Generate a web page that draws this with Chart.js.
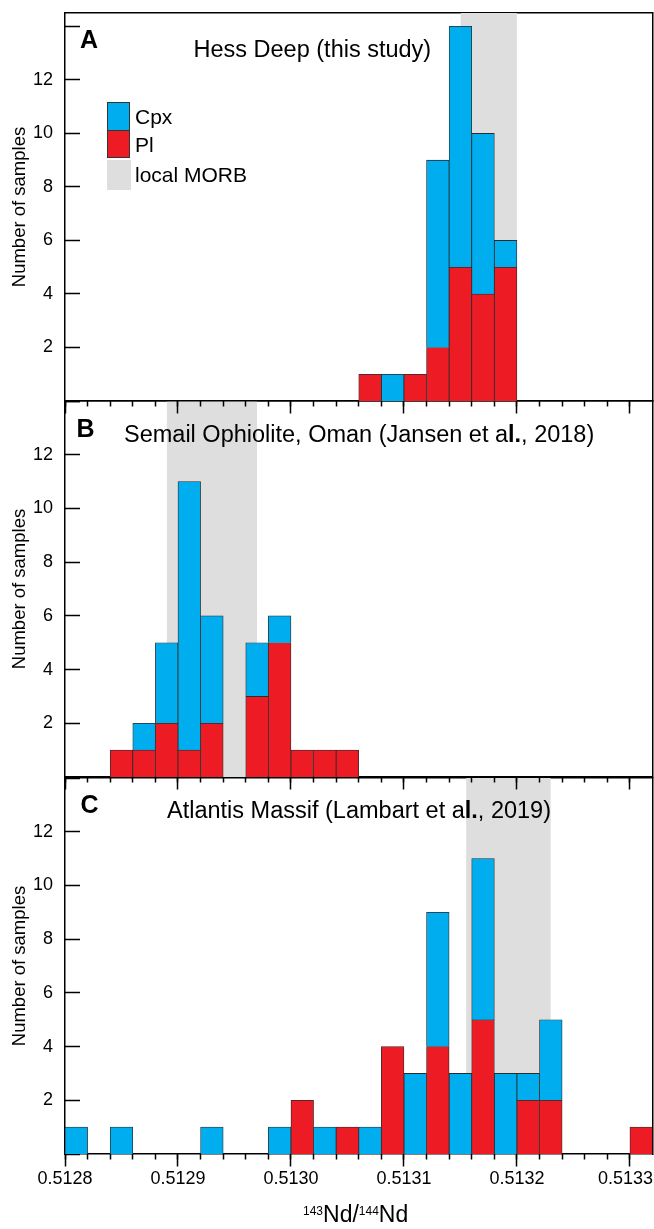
<!DOCTYPE html>
<html>
<head>
<meta charset="utf-8">
<script src="https://cdn.jsdelivr.net/npm/chart.js@4.4.0/dist/chart.umd.min.js"></script>
<style>
  html, body { margin: 0; padding: 0; background: #fff; overflow: hidden; }
  #page { position: relative; width: 654px; height: 1229px; overflow: hidden;
          font-family: 'Liberation Sans', Arial, sans-serif; color: #000; }
  canvas { position: absolute; left: 0; }
  .txt { position: absolute; line-height: 1; white-space: nowrap; z-index: 5; }
  .ttl { font-size: 23.5px; }
  .lett { font-size: 25px; font-weight: bold; }
  .leg { font-size: 21px; }
  .box { position: absolute; box-sizing: border-box; z-index: 5; }
  .sup { font-size: 12px; position: relative; top: -7.7px; }
</style>
</head>
<body>
<div id="page">
  <canvas id="chartC" width="666" height="462" style="top:767px; z-index:1"></canvas>
  <canvas id="chartB" width="654" height="401" style="top:390px; z-index:2"></canvas>
  <canvas id="chartA" width="654" height="415" style="top:0px; z-index:3"></canvas>

  <div class="txt lett" style="left:80px; top:27.1px">A</div>
  <div class="txt ttl" style="left:193.5px; top:38.4px">Hess Deep (this study)</div>
  <div class="txt lett" style="left:76.5px; top:415.5px">B</div>
  <div class="txt ttl" style="left:124px; top:422.8px">Semail Ophiolite, Oman (Jansen et a<b>l.</b>, 2018)</div>
  <div class="txt lett" style="left:80.5px; top:792.1px">C</div>
  <div class="txt ttl" style="left:167px; top:799.4px">Atlantis Massif (Lambart et a<b>l.</b>, 2019)</div>

  <div class="box" style="left:107px; top:102px; width:23px; height:28.5px; background:#00aeef; border:1px solid #333"></div>
  <div class="box" style="left:107px; top:129.5px; width:23px; height:28.5px; background:#ed1c24; border:1px solid #333"></div>
  <div class="box" style="left:107px; top:160px; width:24px; height:30px; background:#dedede"></div>
  <div class="txt leg" style="left:135px; top:105.5px">Cpx</div>
  <div class="txt leg" style="left:135px; top:134.2px">Pl</div>
  <div class="txt leg" style="left:135px; top:163.9px">local MORB</div>

  <div class="txt" style="left:303px; top:1203.2px; font-size:23px"><span class="sup">143</span>Nd/<span class="sup">144</span>Nd</div>
</div>

<script>
// 143Nd/144Nd histogram bins, width 0.00002
const xMin = 0.5128
const xMax = 0.51332
const binCenters = [0.51281, 0.51283, 0.51285, 0.51287, 0.51289, 0.51291, 0.51293, 0.51295, 0.51297, 0.51299,
    0.51301, 0.51303, 0.51305, 0.51307, 0.51309, 0.51311, 0.51313, 0.51315, 0.51317, 0.51319,
    0.51321, 0.51323, 0.51325, 0.51327, 0.51329, 0.51331]
const xTickValues = [0.5128, 0.5129, 0.5130, 0.5131, 0.5132, 0.5133]
const xTickLabels = ['0.5128', '0.5129', '0.5130', '0.5131', '0.5132', '0.5133']
const yTickValues = [2, 4, 6, 8, 10, 12]
const yTickMarks = [0, 2, 4, 6, 8, 10, 12, 14]

// A - Hess Deep
const plA  = [0,0,0,0,0,0,0,0,0,0,0,0,0,1,0,1,2,5,4,5,0,0,0,0,0,0]
const cpxA = [0,0,0,0,0,0,0,0,0,0,0,0,0,0,1,0,7,9,6,1,0,0,0,0,0,0]
const morbA = [0.51315, 0.51320]
// B - Semail Ophiolite
const plB  = [0,0,1,1,2,1,2,0,3,5,1,1,1,0,0,0,0,0,0,0,0,0,0,0,0,0]
const cpxB = [0,0,0,1,3,10,4,0,2,1,0,0,0,0,0,0,0,0,0,0,0,0,0,0,0,0]
const morbB = [0.51289, 0.51297]
// C - Atlantis Massif
const plC  = [0,0,0,0,0,0,0,0,0,0,2,0,1,0,4,0,4,0,5,0,2,2,0,0,0,1]
const cpxC = [1,0,1,0,0,0,1,0,0,1,0,1,0,1,0,3,5,3,6,3,1,3,0,0,0,0]
const morbC = [0.513155, 0.51323]

const CPX = '#00aeef'
const PL = '#ed1c24'
const MORB = '#dedede'
const EDGE = '#2b2b2b'

Chart.defaults.font.family = "'Liberation Sans', Arial, sans-serif"
Chart.defaults.color = '#000'

function makePanel(id, pl, cpx, morb, yMax, withLabels, pad){
    const binEdges = binCenters.map(c => c - 0.00001)
    const scales = {
        x: {
            type: 'linear', min: xMin, max: xMax, bounds: 'data', offset: false,
            position: withLabels ? 'bottom' : 'top',
            afterBuildTicks: s => { s.ticks = xTickValues.map(v => ({value: v})) },
            grid: {offset: false, drawOnChartArea: false, drawTicks: withLabels, tickLength: 12, tickColor: 'rgba(0,0,0,0)'},
            border: {display: !withLabels, color: '#000', width: 1.5},
            ticks: {
                display: withLabels, padding: 2, maxRotation: 0, autoSkip: false, font: {size: 18},
                // trailing en space keeps the last label inside the frame
                callback: (v, i) => i === xTickLabels.length - 1 ? xTickLabels[i] + '\u2002' : xTickLabels[i]
            }
        },
        xMaj: {
            axis: 'x', type: 'linear', min: xMin, max: xMax, bounds: 'data', offset: false, position: {y: 0},
            afterBuildTicks: s => { s.ticks = xTickValues.map(v => ({value: v})) },
            grid: {offset: false, drawOnChartArea: false, tickLength: 12, tickWidth: 1.5, tickColor: '#000'},
            border: {display: true, color: '#000', width: 1.5},
            ticks: {display: false}
        },
        xMinor: {
            axis: 'x', type: 'linear', min: xMin, max: xMax, bounds: 'data', offset: false, position: {y: 0},
            afterBuildTicks: s => { s.ticks = binEdges.map(v => ({value: v})) },
            grid: {offset: false, drawOnChartArea: false, tickLength: 5.5, tickWidth: 1.5, tickColor: '#000'},
            border: {display: false},
            ticks: {display: false}
        },
        y: {
            type: 'linear', position: 'left', min: 0, max: yMax, bounds: 'data',
            afterBuildTicks: s => { s.ticks = yTickValues.map(v => ({value: v})) },
            afterFit: s => { s.width = 65 },
            grid: {drawOnChartArea: false, tickLength: 12, tickColor: 'rgba(0,0,0,0)'},
            border: {display: true, color: '#000', width: 1.5},
            ticks: {padding: 0, font: {size: 18}},
            title: {display: true, text: 'Number of samples', font: {size: 18.5}, padding: {top: 9, bottom: 0}}
        },
        yIn: {
            axis: 'y', type: 'linear', position: {x: xMin}, min: 0, max: yMax, bounds: 'data',
            afterBuildTicks: s => { s.ticks = yTickMarks.filter(v => v <= yMax).map(v => ({value: v})) },
            grid: {drawOnChartArea: false, tickLength: -15, tickWidth: 1.5, tickColor: '#000'},
            border: {display: false},
            ticks: {display: false}
        },
        yR: {
            type: 'linear', position: 'right', min: 0, max: yMax, bounds: 'data',
            grid: {drawOnChartArea: false, drawTicks: false},
            border: {display: true, color: '#000', width: 1.5},
            ticks: {display: false}
        }
    }
    if (withLabels) {
        scales.xTop = {
            axis: 'x', type: 'linear', position: 'top', min: xMin, max: xMax, bounds: 'data', offset: false,
            grid: {offset: false, drawOnChartArea: false, drawTicks: false},
            border: {display: true, color: '#000', width: 1.5},
            ticks: {display: false}
        }
    }
    const barBase = {type: 'bar', borderColor: EDGE, borderWidth: 0.8, stack: 'n',
        barPercentage: 1, categoryPercentage: 1, order: 1, xAxisID: 'x', yAxisID: 'y'}
    return new Chart(document.getElementById(id), {
        type: 'bar',
        data: {
            datasets: [
                Object.assign({label: 'Pl', backgroundColor: PL,
                    data: binCenters.map((x, i) => ({x: x, y: pl[i]}))}, barBase),
                Object.assign({label: 'Cpx', backgroundColor: CPX,
                    data: binCenters.map((x, i) => ({x: x, y: cpx[i]}))}, barBase),
                {type: 'line', label: 'local MORB', data: [{x: morb[0], y: yMax}, {x: morb[1], y: yMax}],
                 fill: 'origin', backgroundColor: MORB, borderColor: 'rgba(0,0,0,0)', borderWidth: 0,
                 pointRadius: 0, order: 2, xAxisID: 'x', yAxisID: 'y'}
            ]
        },
        options: {
            responsive: false, animation: false, events: [],
            layout: {padding: pad},
            plugins: {legend: {display: false}, tooltip: {enabled: false}},
            scales: scales
        }
    })
}

makePanel('chartC', plC, cpxC, morbC, 14, true, {top: 11, right: 13.5, bottom: 37.4, left: 0})
makePanel('chartB', plB, cpxB, morbB, 14, false, {top: 11, right: 1.5, bottom: 14, left: 0})
makePanel('chartA', plA, cpxA, morbA, 14.5, false, {top: 13, right: 1.5, bottom: 14, left: 0})
</script>
</body>
</html>
